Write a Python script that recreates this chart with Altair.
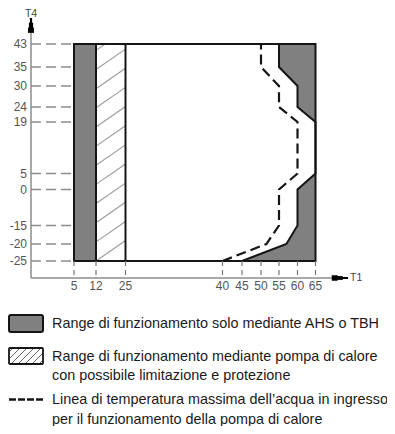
import altair as alt
import pandas as pd

# ---------------- data ----------------
t1_ticks = [5, 12, 25, 40, 45, 50, 55, 60, 65]
t4_ticks = [-25, -20, -15, 0, 5, 19, 24, 30, 35, 43]

boundary_t4 = [-25, -20, -15, 0, 5, 19, 24, 30, 35, 43]
ahs_only_t1 = [45, 57, 60, 60, 65, 65, 60, 60, 55, 55]       # solid boundary of grey zone
max_inlet_t1 = [40, 51.5, 55, 55, 60, 60, 55, 55, 50, 50]    # dashed line

T1_MIN, T1_AHS_END, T1_HP_LIMIT, T1_MAX = 5, 12, 25, 65
T4_MIN, T4_MAX = -25, 43
T1_AXIS, T1_ARROW = 0, 70      # scale anchors: axis origin and arrow tip
T4_AXIS, T4_ARROW = -30, 50

legend_texts = [
    ["Range di funzionamento solo mediante AHS o TBH"],
    ["Range di funzionamento mediante pompa di calore",
     "con possibile limitazione e protezione"],
    ["Linea di temperatura massima dell\u2019acqua in ingresso",
     "per il funzionamento della pompa di calore"],
]

# ---------------- scales (schematic, piecewise) ----------------
X_DOMAIN = [T1_AXIS, 5, 12, 25, 40, 45, 50, 55, 60, 65, T1_ARROW]
X_RANGE = [23, 66, 88, 117.5, 214.5, 234, 253, 271, 289.5, 307.5, 340]
Y_DOMAIN = [T4_AXIS, -25, -20, -15, 0, 5, 19, 24, 30, 35, 43, T4_ARROW]
Y_RANGE = [270, 253, 236, 217.5, 181.5, 165.5, 114, 99, 78, 59, 36, 10]
xs = alt.Scale(domain=X_DOMAIN, range=X_RANGE, nice=False, zero=False)
ys = alt.Scale(domain=Y_DOMAIN, range=Y_RANGE, nice=False, zero=False)
hys = alt.Scale(domain=[T4_MIN, T4_MAX], range=[253, 36], nice=False, zero=False)

FONT = "Liberation Sans"
GREY = "#808080"
INK = "#151515"
AXIS = "#8c8c8c"


def X(f):
    return alt.X(f, scale=xs, axis=None)


def Y(f):
    return alt.Y(f, scale=ys, axis=None)


def XD(v):
    return alt.XDatum(v, scale=xs, axis=None)


def YD(v):
    return alt.YDatum(v, scale=ys, axis=None)


one = pd.DataFrame({"a": [0]})
bound = pd.DataFrame({"i": range(len(boundary_t4)), "T4": boundary_t4,
                      "solid": ahs_only_t1, "dash": max_inlet_t1})

# hatch pattern of the heat-pump limited band
HATCH_STEP, HATCH_RISE, HATCH_START = 6.0, 6.4, -31.0
segs = []
b = HATCH_START
while b < T4_MAX:
    u0 = max(0.0, (T4_MIN - b) / HATCH_RISE)
    u1 = min(1.0, (T4_MAX - b) / HATCH_RISE)
    if u1 > u0:
        w = T1_HP_LIMIT - T1_AHS_END
        segs.append(dict(x=T1_AHS_END + w * u0, y=b + HATCH_RISE * u0,
                         x2=T1_AHS_END + w * u1, y2=b + HATCH_RISE * u1))
    b += HATCH_STEP
hatch_df = pd.DataFrame(segs)

layers = []

# grey AHS-only band on the left
layers.append(alt.Chart(one).mark_rect(color=GREY).encode(
    x=XD(T1_MIN), x2=alt.datum(T1_AHS_END), y=YD(T4_MIN), y2=alt.datum(T4_MAX)))
# hatch
layers.append(alt.Chart(hatch_df).mark_rule(color="#9a9a9a", strokeWidth=1.1).encode(
    x=X("x:Q"), x2="x2:Q", y=alt.Y("y:Q", scale=hys, axis=None), y2="y2:Q"))
# grey zone on the right
layers.append(alt.Chart(bound).mark_area(orient="horizontal", color=GREY, opacity=1).encode(
    y=Y("T4:Q"), x=X("solid:Q"), x2=alt.datum(T1_MAX)))
# box outline
layers.append(alt.Chart(one).mark_rect(fillOpacity=0, stroke=INK, strokeWidth=2).encode(
    x=XD(T1_MIN), x2=alt.datum(T1_MAX), y=YD(T4_MIN), y2=alt.datum(T4_MAX)))
# inner vertical borders
layers.append(alt.Chart(pd.DataFrame({"v": [T1_AHS_END, T1_HP_LIMIT]})).mark_rule(
    color=INK, strokeWidth=2).encode(x=X("v:Q"), y=YD(T4_MIN), y2=alt.datum(T4_MAX)))
# solid limit line
layers.append(alt.Chart(bound).mark_line(color=INK, strokeWidth=2).encode(
    x=X("solid:Q"), y=Y("T4:Q"), order="i:Q"))
# dashed max inlet line
layers.append(alt.Chart(bound).mark_line(color=INK, strokeWidth=2.2, strokeDash=[10, 5]).encode(
    x=X("dash:Q"), y=Y("T4:Q"), order="i:Q"))
# dashed horizontal guides
layers.append(alt.Chart(pd.DataFrame({"v": t4_ticks})).mark_rule(
    color=AXIS, strokeWidth=1.5, strokeDash=[10, 5]).encode(
    x=XD(T1_AXIS), x2=alt.datum(T1_MIN), y=Y("v:Q")))
# dashed vertical ticks
layers.append(alt.Chart(pd.DataFrame({"v": t1_ticks})).mark_rule(
    color="#777777", strokeWidth=1.2, strokeDash=[5, 4]).encode(
    x=X("v:Q"), y=YD(T4_MIN), y2=alt.datum(T4_AXIS)))
# axis lines
layers.append(alt.Chart(one).mark_rule(color=AXIS, strokeWidth=1.5).encode(
    x=XD(T1_AXIS), y=YD(T4_AXIS), y2=alt.datum(T4_ARROW)))
layers.append(alt.Chart(one).mark_rule(color=AXIS, strokeWidth=1.5).encode(
    y=YD(T4_AXIS), x=XD(T1_AXIS), x2=alt.datum(T1_ARROW)))

# arrow heads: filled triangles along the axis lines (thick tapered rules)
up_arrow = pd.DataFrame({"y": [T4_ARROW - 4.0, T4_ARROW - 2.7, T4_ARROW - 1.35],
                         "y2": [T4_ARROW - 2.6, T4_ARROW - 1.25, T4_ARROW],
                         "w": [6, 4.2, 2.2]})
layers.append(alt.Chart(up_arrow).mark_rule(color="#000").encode(
    x=XD(T1_AXIS), y=Y("y:Q"), y2="y2:Q",
    strokeWidth=alt.StrokeWidth("w:Q", scale=None)))
right_arrow = pd.DataFrame({"x": [T1_ARROW - 2.5, T1_ARROW - 1.7, T1_ARROW - 0.85],
                            "x2": [T1_ARROW - 1.6, T1_ARROW - 0.8, T1_ARROW],
                            "w": [5.5, 3.8, 2.0]})
layers.append(alt.Chart(right_arrow).mark_rule(color="#000").encode(
    y=YD(T4_AXIS), x=X("x:Q"), x2="x2:Q",
    strokeWidth=alt.StrokeWidth("w:Q", scale=None)))

# axis titles
layers.append(alt.Chart(one).mark_text(text="T4", font=FONT, fontSize=10.5, color="#444",
                                       dy=-4, baseline="middle").encode(
    x=XD(T1_AXIS), y=YD(T4_ARROW)))
layers.append(alt.Chart(one).mark_text(text="T1", font=FONT, fontSize=10.5, color="#444",
                                       dx=2, align="left").encode(
    x=XD(T1_ARROW), y=YD(T4_AXIS)))
# tick labels
layers.append(alt.Chart(pd.DataFrame({"v": t4_ticks, "lab": [str(v) for v in t4_ticks]})).mark_text(
    font=FONT, fontSize=12, color="#555", align="right", dx=-4).encode(
    x=XD(T1_AXIS), y=Y("v:Q"), text="lab:N"))
layers.append(alt.Chart(pd.DataFrame({"v": t1_ticks, "lab": [str(v) for v in t1_ticks]})).mark_text(
    font=FONT, fontSize=12, color="#555", align="center", dy=8).encode(
    x=X("v:Q"), y=YD(T4_AXIS), text="lab:N"))

# ---------------- legend ----------------
LEG_X0, LEG_X1, TXT_X = 1, 35, 44
layers.append(alt.Chart(one).mark_rect(color=GREY, stroke=INK, strokeWidth=2, cornerRadius=2).encode(
    x=alt.value(LEG_X0), x2=alt.value(LEG_X1), y=alt.value(307), y2=alt.value(324)))
layers.append(alt.Chart(one).mark_rect(fill="white", stroke=INK, strokeWidth=1.8, cornerRadius=1).encode(
    x=alt.value(LEG_X0), x2=alt.value(LEG_X1), y=alt.value(340), y2=alt.value(356)))
sw_top, sw_bot = 341, 355
for s in [-10, -3, 4, 11, 18, 25, 32]:
    xa, ya = s, sw_bot
    xb, yb = s + (sw_bot - sw_top), sw_top
    if xa < LEG_X0 + 1:
        ya -= (LEG_X0 + 1 - xa)
        xa = LEG_X0 + 1
    if xb > LEG_X1 - 1:
        yb += (xb - (LEG_X1 - 1))
        xb = LEG_X1 - 1
    if xb > xa:
        layers.append(alt.Chart(one).mark_rule(color="#666", strokeWidth=1).encode(
            x=alt.value(xa), x2=alt.value(xb), y=alt.value(ya), y2=alt.value(yb)))
layers.append(alt.Chart(one).mark_rule(color=INK, strokeWidth=2.5, strokeDash=[7, 2]).encode(
    x=alt.value(LEG_X0), x2=alt.value(LEG_X1), y=alt.value(391.5)))

line_y = [[316], [348.5, 368], [392, 412]]
for texts, ys_ in zip(legend_texts, line_y):
    for t, yy in zip(texts, ys_):
        layers.append(alt.Chart(one).mark_text(text=t, font=FONT, fontSize=14.4, color="#1a1a1a",
                                               align="left", baseline="middle").encode(
            x=alt.value(TXT_X), y=alt.value(yy)))

chart = alt.layer(*layers).resolve_scale(x="independent", y="independent").properties(
    width=379, height=418, padding=0, autosize=alt.AutoSizeParams(type="none"),
    background="white",
).configure_view(strokeWidth=0)

chart.save("out.html", embed_options={"renderer": "svg", "actions": False})
